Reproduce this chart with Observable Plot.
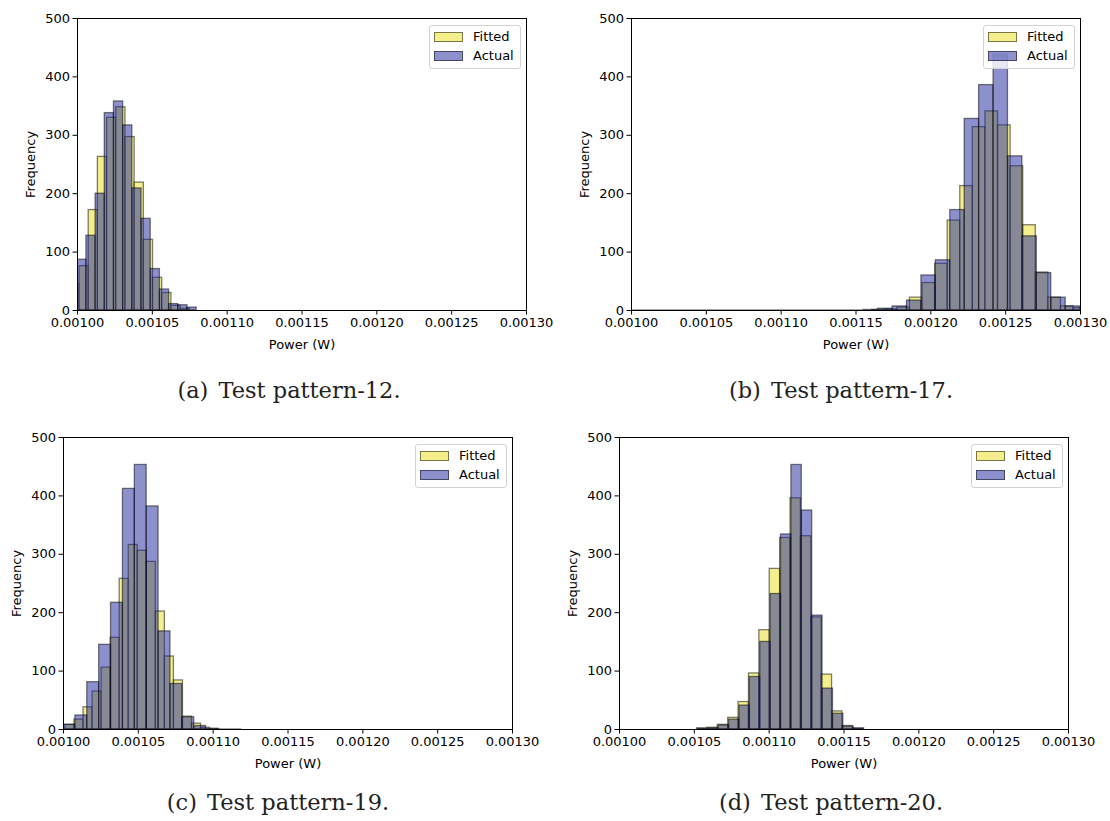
<!DOCTYPE html>
<html><head><meta charset="utf-8">
<script src="https://cdn.jsdelivr.net/npm/d3@7"></script>
<script src="https://cdn.jsdelivr.net/npm/@observablehq/plot@0.6"></script>
<style>
html,body{margin:0;padding:0;background:#fff;}
body{width:1110px;height:821px;position:relative;overflow:hidden;font-family:"DejaVu Sans",sans-serif;}
.panel{position:absolute;}
.legend{position:absolute;box-sizing:border-box;width:92px;height:44px;background:rgba(255,255,255,0.8);border:1px solid #d3d3d3;border-radius:3px;font-size:13px;color:#000;}
.item{position:absolute;left:4px;height:16px;line-height:16px;white-space:nowrap;}
.sw{display:inline-block;box-sizing:border-box;width:29px;height:10px;border:1px solid rgba(0,0,0,0.5);vertical-align:middle;margin-right:10px;position:relative;top:-1px;}
.caption{position:absolute;font-family:"DejaVu Serif",serif;font-size:22.5px;line-height:26px;color:#222;white-space:nowrap;transform:translateX(-50%);}
.caption .tag{margin-right:10px;}
</style></head><body>
<script>
// ---------- data ----------
const seriesNames = ["Fitted", "Actual"];
const captionTags = ["(a)", "(b)", "(c)", "(d)"];
const captionTexts = ["Test pattern-12.", "Test pattern-17.", "Test pattern-19.", "Test pattern-20."];
const xTicks = [0.00100, 0.00105, 0.00110, 0.00115, 0.00120, 0.00125, 0.00130];
const yTicks = [0, 100, 200, 300, 400, 500];

// (a) Test pattern-12
const fit12Start = 0.0009952, fit12Width = 6.14e-6;
const fit12Counts = [45, 76, 172, 263, 330, 348, 297, 219, 121, 56, 30, 8, 3];
const act12Start = 0.0009998, act12Width = 6.14e-6;
const act12Counts = [87, 128, 200, 338, 358, 317, 209, 157, 71, 36, 11, 9, 5];

// (b) Test pattern-17
const fit17Start = 0.0011608, fit17Width = 8.41e-6;
const fit17Counts = [1, 2, 5, 22, 47, 80, 154, 213, 314, 341, 317, 247, 146, 65, 22, 7, 4];
const act17Start = 0.0010009, act17Width = 9.64e-6;
const act17Counts = [0, 0, 0, 0, 0, 0, 0, 0, 0, 0, 0, 0, 0, 0, 0, 0, 1, 3, 7, 17, 60, 86, 172, 328, 386, 438, 264, 127, 64, 22, 7];

// (c) Test pattern-19
const fit19Start = 0.0010013, fit19Width = 6.04e-6;
const fit19Counts = [8, 17, 38, 65, 106, 157, 258, 316, 306, 287, 202, 125, 84, 22, 10, 3, 1];
const act19Start = 0.0010000, act19Width = 7.94e-6;
const act19Counts = [8, 24, 81, 145, 217, 412, 453, 382, 168, 78, 21, 6, 1, 0, 0];

// (d) Test pattern-20
const fit20Start = 0.0010518, fit20Width = 6.94e-6;
const fit20Counts = [2, 3, 8, 20, 47, 96, 170, 275, 328, 396, 331, 192, 94, 31, 6, 1];
const act20Start = 0.0010524, act20Width = 6.94e-6;
const act20Counts = [1, 2, 7, 17, 41, 90, 150, 232, 334, 453, 375, 195, 70, 27, 5, 2];

// ---------- build ----------
function bins(start, width, counts) {
  return counts.map((c, i) => ({x1: start + i * width, x2: start + (i + 1) * width, count: c}));
}
const panelData = [
  [bins(fit12Start, fit12Width, fit12Counts), bins(act12Start, act12Width, act12Counts)],
  [bins(fit17Start, fit17Width, fit17Counts), bins(act17Start, act17Width, act17Counts)],
  [bins(fit19Start, fit19Width, fit19Counts), bins(act19Start, act19Width, act19Counts)],
  [bins(fit20Start, fit20Width, fit20Counts), bins(act20Start, act20Width, act20Counts)]
];

const FILL_FIT = "#ede030", OP_FIT = 0.55;
const FILL_ACT = "#1a239b", OP_ACT = 0.5;
const frames = [
  {left: 77, top: 18, cap: [289, 377]},
  {left: 631, top: 18, cap: [841, 377]},
  {left: 63, top: 437, cap: [278, 789]},
  {left: 619, top: 437, cap: [831, 789]}
];
const FW = 449, FH = 292, ML = 70, MR = 30, MT = 12, MB = 50;

frames.forEach((f, i) => {
  const [fit, act] = panelData[i];
  const barOpts = {x1: "x1", x2: "x2", y1: 0, y2: "count", stroke: "black", strokeOpacity: 0.5, strokeWidth: 1.3, clip: true};
  const zeros = fit.concat(act).filter(d => d.count === 0);
  const plot = Plot.plot({
    width: ML + FW + MR, height: MT + FH + MB,
    marginLeft: ML, marginRight: MR, marginTop: MT, marginBottom: MB,
    x: {domain: [xTicks[0], xTicks[xTicks.length - 1]]},
    y: {domain: [0, 500]},
    style: {fontFamily: "DejaVu Sans", fontSize: "13px", color: "black", background: "transparent", overflow: "visible"},
    marks: [
      Plot.rectY(fit, {...barOpts, fill: FILL_FIT, fillOpacity: OP_FIT}),
      Plot.rectY(act, {...barOpts, fill: FILL_ACT, fillOpacity: OP_ACT}),
      Plot.ruleY(zeros, {x1: "x1", x2: "x2", y: "count", stroke: "black", strokeWidth: 2, strokeOpacity: 0.7, clip: true}),
      Plot.frame({stroke: "black", strokeWidth: 1}),
      Plot.axisX({ticks: xTicks, tickFormat: d3.format(".5f"), tickSize: 4.5, tickPadding: 3, label: "Power (W)", labelAnchor: "center", labelArrow: "none", labelOffset: 38}),
      Plot.axisY({ticks: yTicks, tickSize: 4.5, tickPadding: 3, label: "Frequency", labelAnchor: "center", labelArrow: "none", labelOffset: 52})
    ]
  });
  const div = document.createElement("div");
  div.className = "panel";
  div.style.left = (f.left - ML) + "px";
  div.style.top = (f.top - MT) + "px";
  div.appendChild(plot);
  document.body.appendChild(div);

  // legend
  const lg = document.createElement("div");
  lg.className = "legend";
  lg.style.left = (f.left + FW - 97) + "px";
  lg.style.top = (f.top + 7) + "px";
  const fills = [[FILL_FIT, OP_FIT], [FILL_ACT, OP_ACT]];
  seriesNames.forEach((name, k) => {
    const it = document.createElement("div");
    it.className = "item";
    it.style.top = (3 + k * 19) + "px";
    const sw = document.createElement("span");
    sw.className = "sw";
    const c = d3.color(fills[k][0]); c.opacity = fills[k][1];
    sw.style.background = c.formatRgb();
    it.appendChild(sw);
    it.appendChild(document.createTextNode(name));
    lg.appendChild(it);
  });
  document.body.appendChild(lg);

  // caption
  const cap = document.createElement("div");
  cap.className = "caption";
  cap.style.left = f.cap[0] + "px";
  cap.style.top = f.cap[1] + "px";
  const tag = document.createElement("span");
  tag.className = "tag";
  tag.textContent = captionTags[i];
  cap.appendChild(tag);
  cap.appendChild(document.createTextNode(captionTexts[i]));
  document.body.appendChild(cap);
});
</script>
</body></html>
